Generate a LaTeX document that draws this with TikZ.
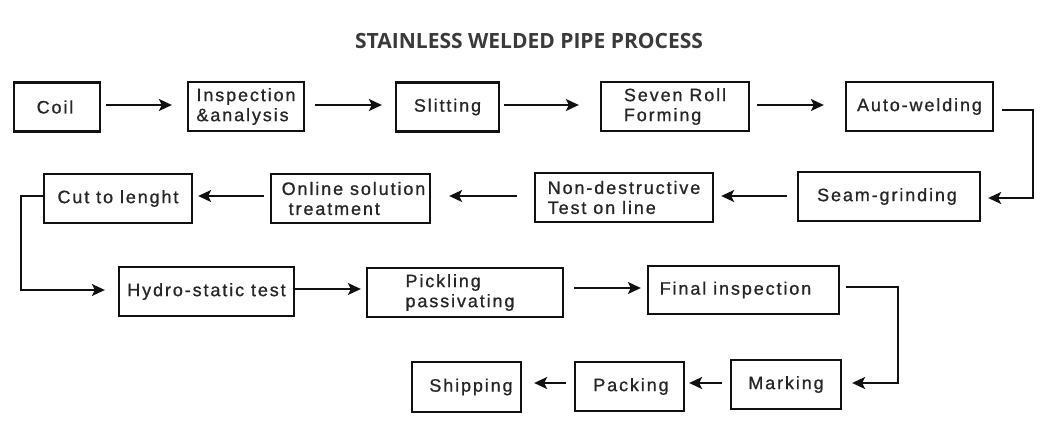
\documentclass[tikz,border=0pt]{standalone}
\usepackage{fontspec}
\setmainfont{Liberation Sans}[LetterSpace=10.5,FakeBold=0.9]
\newfontfamily\titlefont{Open Sans}
\usetikzlibrary{arrows.meta}
\definecolor{txt}{HTML}{262626}
\definecolor{ln}{HTML}{111111}
\definecolor{ttl}{HTML}{3A3A3A}
\begin{document}
\begin{tikzpicture}[x=1pt,y=-1pt,
  box/.style={draw=ln,line width=2.3pt,rectangle,inner sep=0pt,
    minimum height=49pt,text=txt,align=left,
    font=\fontsize{18pt}{20pt}\selectfont},
  arr/.style={draw=ln,line width=2pt,-{Stealth[length=13pt,width=12pt,inset=3pt]}},
  elb/.style={arr,rounded corners=0pt}]
\useasboundingbox (0,0) rectangle (1060,428);
\node[font=\titlefont\bfseries\fontsize{21pt}{22pt}\selectfont,text=ttl] (title) at (529,41) {STAINLESS WELDED PIPE PROCESS};
% row 1
\node[box,minimum width=86pt]  (coil)  at (57,107)    {Coil\hspace*{4pt}};
\node[box,minimum width=116pt] (insp)  at (246,106.5) {Inspection\\\&analysis};
\node[box,minimum width=103pt] (slit)  at (447.5,107) {Slitting};
\node[box,minimum width=148pt] (seven) at (675,106.5) {Seven Roll\\Forming};
\node[box,minimum width=147pt] (auto)  at (919.5,106.5) {\raisebox{2pt}{Auto-welding}};
% row 2
\node[box,minimum width=182pt] (seam)  at (889,196.5) {Seam-grinding\hspace*{4pt}};
\node[box,minimum width=178pt] (ndt)   at (624,197.5) {Non-destructive\\Test on line};
\node[box,minimum width=159pt] (online) at (350.5,198.5) {\hspace*{6pt}Online solution\\\hspace*{13pt}treatment};
\node[box,minimum width=148pt] (cut)   at (118,198.5) {Cut to lenght};
% row 3
\node[box,minimum width=175pt] (hydro) at (206.5,291.5) {Hydro-static test};
\node[box,minimum width=196pt] (pick)  at (465,292.5) {Pickling\\passivating\hspace*{10pt}};
\node[box,minimum width=191pt,minimum height=48pt] (final) at (743.5,290) {Final inspection\hspace*{16pt}};
% row 4
\node[box,minimum width=110pt] (mark)  at (786,384.5) {Marking};
\node[box,minimum width=109pt] (pack)  at (629.5,386.5) {\hspace*{3pt}Packing};
\node[box,minimum width=109pt,minimum height=50pt] (ship) at (466.5,387) {\hspace*{9pt}Shipping};
% connectors
\draw[arr] ([xshift=5pt,yshift=2pt]coil.east) -- ([xshift=-15pt,yshift=1.5pt]insp.west);
\draw[arr] ([xshift=10pt,yshift=1.5pt]insp.east) -- ([xshift=-13pt,yshift=2pt]slit.west);
\draw[arr] ([xshift=4pt,yshift=2pt]slit.east) -- ([xshift=-21pt,yshift=1.5pt]seven.west);
\draw[arr] ([xshift=7pt,yshift=1.5pt]seven.east) -- ([xshift=-21pt,yshift=1.5pt]auto.west);
\draw[elb] ([xshift=8pt,yshift=-3.5pt]auto.east) -- ++(31,0) |- ([xshift=7pt,yshift=-1.5pt]seam.east);
\draw[arr] ([xshift=-10pt,yshift=0.5pt]seam.west) -- ([xshift=7pt,yshift=1.5pt]ndt.east);
\draw[arr] ([xshift=-17pt,yshift=1.5pt]ndt.west) -- ([xshift=18pt,yshift=2.5pt]online.east);
\draw[arr] ([xshift=-6pt,yshift=2.5pt]online.west) -- ([xshift=5pt,yshift=2.5pt]cut.east);
\draw[elb] ([yshift=2.5pt]cut.west) -- ++(-22,0) |- ([xshift=-13pt,yshift=1.5pt]hydro.west);
\draw[arr] ([yshift=2.5pt]hydro.east) -- ([xshift=-5pt,yshift=3.5pt]pick.west);
\draw[arr] ([xshift=10pt,yshift=4.5pt]pick.east) -- ([xshift=-6pt,yshift=2pt]final.west);
\draw[elb] ([xshift=6pt,yshift=3pt]final.east) -- ++(52,0) |- ([xshift=10pt,yshift=1.5pt]mark.east);
\draw[arr] ([xshift=-8pt,yshift=1.5pt]mark.west) -- ([xshift=4pt,yshift=3.5pt]pack.east);
\draw[arr] ([xshift=-8pt,yshift=3.5pt]pack.west) -- ([xshift=12pt,yshift=4pt]ship.east);
\end{tikzpicture}
\end{document}
